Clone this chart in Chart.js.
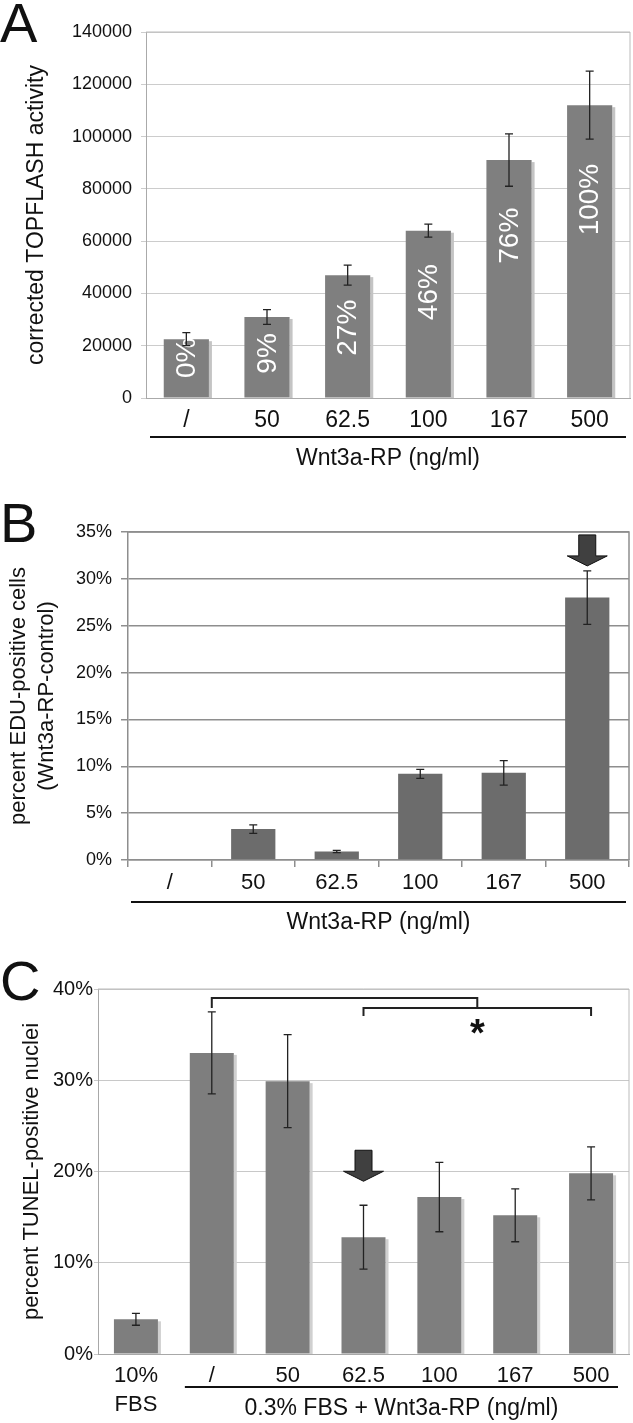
<!DOCTYPE html>
<html lang="en">
<head>
<meta charset="UTF-8">
<title>Wnt3a-RP dose response</title>
<style>
  body { margin: 0; background: #fff; }
  #wrap { position: relative; width: 633px; height: 1423px; }
  canvas { position: absolute; left: 0; }
</style>
</head>
<body>
<div id="wrap">
  <canvas id="chart-a" width="633" height="480" style="top:0px"></canvas>
  <canvas id="chart-b" width="633" height="470" style="top:480px"></canvas>
  <canvas id="chart-c" width="633" height="473" style="top:950px"></canvas>
</div>

<script src="https://cdn.jsdelivr.net/npm/chart.js"></script>
<script>
// ---- data ----
const doseLabels = ['/', '50', '62.5', '100', '167', '500'];

// A: TOPFLASH
const topflash = [22500, 31000, 47000, 64000, 91000, 112000];
const topflashErr = [2500, 2800, 3800, 2500, 10000, 13000];
const topflashPct = ['0%', '9%', '27%', '46%', '76%', '100%'];
const topflashTicks = [0, 20000, 40000, 60000, 80000, 100000, 120000, 140000];

// B: EDU-positive cells (%)
const edu = [0, 3.3, 0.9, 9.2, 9.3, 28.0];
const eduErr = [0, 0.45, 0.12, 0.48, 1.3, 2.85];
const eduTicks = [0, 5, 10, 15, 20, 25, 30, 35];

// C: TUNEL-positive nuclei (%)
const tunelLabels = [['10%', 'FBS'], '/', '50', '62.5', '100', '167', '500'];
const tunel = [3.8, 33.0, 29.9, 12.8, 17.2, 15.2, 19.8];
const tunelErr = [0.65, 4.5, 5.1, 3.5, 3.8, 2.9, 2.9];
const tunelTicks = [0, 10, 20, 30, 40];

const FONT = "'Liberation Sans', Arial, Helvetica, sans-serif";
Chart.defaults.font.family = FONT;
Chart.defaults.color = '#111';

// extra drawing: box, error bars, labels, arrows, brackets, underline
function decor(cfg) {
  return {
    id: 'decor',
    beforeDatasetsDraw(chart) {
      if (!cfg.shadow) return;
      const ctx = chart.ctx, a = chart.chartArea;
      ctx.save();
      ctx.fillStyle = cfg.shadow;
      chart.getDatasetMeta(0).data.forEach(bar => {
        ctx.fillRect(bar.x + bar.width / 2, bar.y + 2, 3, a.bottom - bar.y - 2);
      });
      ctx.restore();
    },
    afterDatasetsDraw(chart) {
      const ctx = chart.ctx, a = chart.chartArea;
      const x = chart.scales.x, y = chart.scales.y;
      const meta = chart.getDatasetMeta(0);
      const vals = chart.data.datasets[0].data;
      ctx.save();

      // top and right frame
      ctx.strokeStyle = cfg.boxColor;
      ctx.lineWidth = cfg.boxWidth;
      ctx.beginPath();
      ctx.moveTo(a.left, a.top);
      ctx.lineTo(a.right, a.top);
      ctx.lineTo(a.right, a.bottom);
      ctx.stroke();

      // labels inside bars
      if (cfg.barText) {
        ctx.fillStyle = '#fff';
        ctx.font = '28px ' + FONT;
        meta.data.forEach((bar, i) => {
          const txt = cfg.barText[i];
          const w = ctx.measureText(txt).width;
          const h = a.bottom - bar.y;
          const up = Math.max(0.8 * h, w + 20);
          ctx.save();
          ctx.translate(bar.x + 1, a.bottom - up);
          ctx.rotate(-Math.PI / 2);
          ctx.textAlign = 'right';
          ctx.textBaseline = 'middle';
          ctx.fillText(txt, 0, 0);
          ctx.restore();
        });
      }

      // error bars
      ctx.strokeStyle = '#222';
      ctx.lineWidth = 1.3;
      meta.data.forEach((bar, i) => {
        const e = cfg.errors[i];
        if (!e) return;
        const t = y.getPixelForValue(vals[i] + e);
        const b = y.getPixelForValue(vals[i] - e);
        ctx.beginPath();
        ctx.moveTo(bar.x, t); ctx.lineTo(bar.x, b);
        ctx.moveTo(bar.x - 4, t); ctx.lineTo(bar.x + 4, t);
        ctx.moveTo(bar.x - 4, b); ctx.lineTo(bar.x + 4, b);
        ctx.stroke();
      });

      // arrow
      if (cfg.arrow) {
        const i = cfg.arrow.index;
        const bx = meta.data[i].x;
        const tip = y.getPixelForValue(vals[i] + cfg.errors[i]) - cfg.arrow.gap;
        const L = 31, hh = 10, sw = 8.5, hw = 20;
        ctx.beginPath();
        ctx.moveTo(bx - sw, tip - L);
        ctx.lineTo(bx + sw, tip - L);
        ctx.lineTo(bx + sw, tip - hh);
        ctx.lineTo(bx + hw, tip - hh);
        ctx.lineTo(bx, tip);
        ctx.lineTo(bx - hw, tip - hh);
        ctx.lineTo(bx - sw, tip - hh);
        ctx.closePath();
        ctx.fillStyle = '#404040';
        ctx.fill();
        ctx.strokeStyle = '#111';
        ctx.lineWidth = 1;
        ctx.stroke();
      }

      // significance brackets
      if (cfg.brackets) {
        const br = cfg.brackets;
        const x1 = meta.data[br.from].x;
        const x2a = meta.data[br.groupFrom].x, x2b = meta.data[br.groupTo].x;
        const mid = (x2a + x2b) / 2;
        const y1 = a.top + 9, y2 = a.top + 19;
        ctx.strokeStyle = '#222';
        ctx.lineWidth = 2;
        ctx.beginPath();
        ctx.moveTo(x1, y1 + 10); ctx.lineTo(x1, y1); ctx.lineTo(mid, y1); ctx.lineTo(mid, y2);
        ctx.moveTo(x2a, y2 + 8); ctx.lineTo(x2a, y2); ctx.lineTo(x2b, y2); ctx.lineTo(x2b, y2 + 8);
        ctx.stroke();
        ctx.fillStyle = '#111';
        ctx.font = 'bold 38px ' + FONT;
        ctx.textAlign = 'center';
        ctx.textBaseline = 'alphabetic';
        ctx.fillText('*', mid, a.top + 57);
      }

      // group underline and axis caption
      const half = (x.getPixelForValue(1) - x.getPixelForValue(0)) / 2;
      const l = meta.data[cfg.groupFrom].x - half + cfg.inset;
      const r = meta.data[meta.data.length - 1].x + half - cfg.inset;
      ctx.strokeStyle = '#111';
      ctx.lineWidth = 2;
      ctx.beginPath();
      ctx.moveTo(l, a.bottom + cfg.lineDrop);
      ctx.lineTo(r, a.bottom + cfg.lineDrop);
      ctx.stroke();
      ctx.fillStyle = '#111';
      ctx.font = '23px ' + FONT;
      ctx.textAlign = 'center';
      ctx.textBaseline = 'middle';
      ctx.fillText(cfg.caption, (l + r) / 2, a.bottom + cfg.titleDrop);

      // panel letter
      ctx.font = '56px ' + FONT;
      ctx.textAlign = 'left';
      ctx.textBaseline = 'alphabetic';
      ctx.fillText(cfg.letter, 0, cfg.letterBase);
      ctx.restore();
    }
  };
}

function makeChart(id, p) {
  const canvas = document.getElementById(id);
  return new Chart(canvas, {
    type: 'bar',
    data: {
      labels: p.labels,
      datasets: [{
        data: p.values,
        backgroundColor: p.barColor,
        borderWidth: 0,
        barPercentage: p.barPct,
        categoryPercentage: 1
      }]
    },
    options: {
      responsive: false,
      animation: false,
      events: [],
      layout: { padding: { top: p.area.top, right: 633 - p.area.right, left: 0, bottom: 0 } },
      plugins: { legend: { display: false }, tooltip: { enabled: false } },
      scales: {
        x: {
          grid: p.xGrid,
          border: { color: p.axisColor, width: p.gridWidth },
          ticks: { font: { size: p.xFont, lineHeight: p.xLine }, padding: p.xPad, color: '#111', maxRotation: 0, autoSkip: false },
          afterFit: s => { s.height = canvas.height - p.area.bottom; }
        },
        y: {
          min: p.ticks[0],
          max: p.ticks[p.ticks.length - 1],
          afterBuildTicks: s => { s.ticks = p.ticks.map(v => ({ value: v })); },
          grid: { color: p.gridColor, lineWidth: p.gridWidth, tickLength: p.yTickLen },
          border: { color: p.axisColor, width: p.gridWidth },
          ticks: { font: { size: p.yFont }, padding: p.yPad, color: '#111', autoSkip: false, callback: p.fmt },
          title: { display: true, text: p.yTitle, font: { size: p.yTitleFont, lineHeight: p.yTitleLine }, padding: { top: p.yTitlePad, bottom: 0 }, color: '#111' },
          afterFit: s => { s.width = p.area.left; }
        }
      }
    },
    plugins: [decor(p.decor)]
  });
}

makeChart('chart-a', {
  labels: doseLabels, values: topflash, ticks: topflashTicks,
  barColor: '#7f7f7f', barPct: 0.56,
  area: { left: 146, right: 630, top: 32, bottom: 398 },
  gridColor: '#cccccc', axisColor: '#aaaaaa', gridWidth: 1,
  xGrid: { display: false, drawTicks: false },
  xFont: 23, xLine: 1.2, xPad: 9,
  yFont: 18, yPad: 9, yTickLen: 5, fmt: v => String(v),
  yTitle: 'corrected TOPFLASH activity', yTitleFont: 23, yTitleLine: 1.2, yTitlePad: 23,
  decor: {
    errors: topflashErr, barText: topflashPct, shadow: '#c4c4c4',
    boxColor: '#bbbbbb', boxWidth: 1,
    groupFrom: 0, inset: 4, lineDrop: 39, titleDrop: 61, caption: 'Wnt3a-RP (ng/ml)',
    letter: 'A', letterBase: 42
  }
});

makeChart('chart-b', {
  labels: doseLabels, values: edu, ticks: eduTicks,
  barColor: '#6c6c6c', barPct: 0.53,
  area: { left: 128, right: 629, top: 52, bottom: 380 },
  gridColor: '#8e8e8e', axisColor: '#8e8e8e', gridWidth: 1.5,
  xGrid: { display: true, drawOnChartArea: false, drawTicks: true, tickLength: 7, color: '#8e8e8e', lineWidth: 1.5 },
  xFont: 22, xLine: 1.2, xPad: 3,
  yFont: 18, yPad: 9, yTickLen: 7, fmt: v => v + '%',
  yTitle: ['percent EDU-positive cells', '(Wnt3a-RP-control)'], yTitleFont: 22, yTitleLine: 1.27, yTitlePad: 5,
  decor: {
    errors: eduErr, arrow: { index: 5, gap: 5 },
    boxColor: '#8e8e8e', boxWidth: 1.5,
    groupFrom: 0, inset: 3, lineDrop: 42, titleDrop: 63, caption: 'Wnt3a-RP (ng/ml)',
    letter: 'B', letterBase: 62
  }
});

makeChart('chart-c', {
  labels: tunelLabels, values: tunel, ticks: tunelTicks,
  barColor: '#7e7e7e', barPct: 0.58,
  area: { left: 98, right: 629, top: 39, bottom: 404 },
  gridColor: '#c8c8c8', axisColor: '#a8a8a8', gridWidth: 1,
  xGrid: { display: false, drawTicks: false },
  xFont: 22, xLine: 1.32, xPad: 7,
  yFont: 20, yPad: 1, yTickLen: 4, fmt: v => v + '%',
  yTitle: 'percent TUNEL-positive nuclei', yTitleFont: 22, yTitleLine: 1.2, yTitlePad: 19,
  decor: {
    errors: tunelErr, arrow: { index: 3, gap: 24 }, shadow: '#d0d0d0',
    brackets: { from: 1, groupFrom: 3, groupTo: 6 },
    boxColor: '#bbbbbb', boxWidth: 1,
    groupFrom: 1, inset: 11, lineDrop: 33, titleDrop: 55, caption: '0.3% FBS + Wnt3a-RP (ng/ml)',
    letter: 'C', letterBase: 50
  }
});
</script>
</body>
</html>
